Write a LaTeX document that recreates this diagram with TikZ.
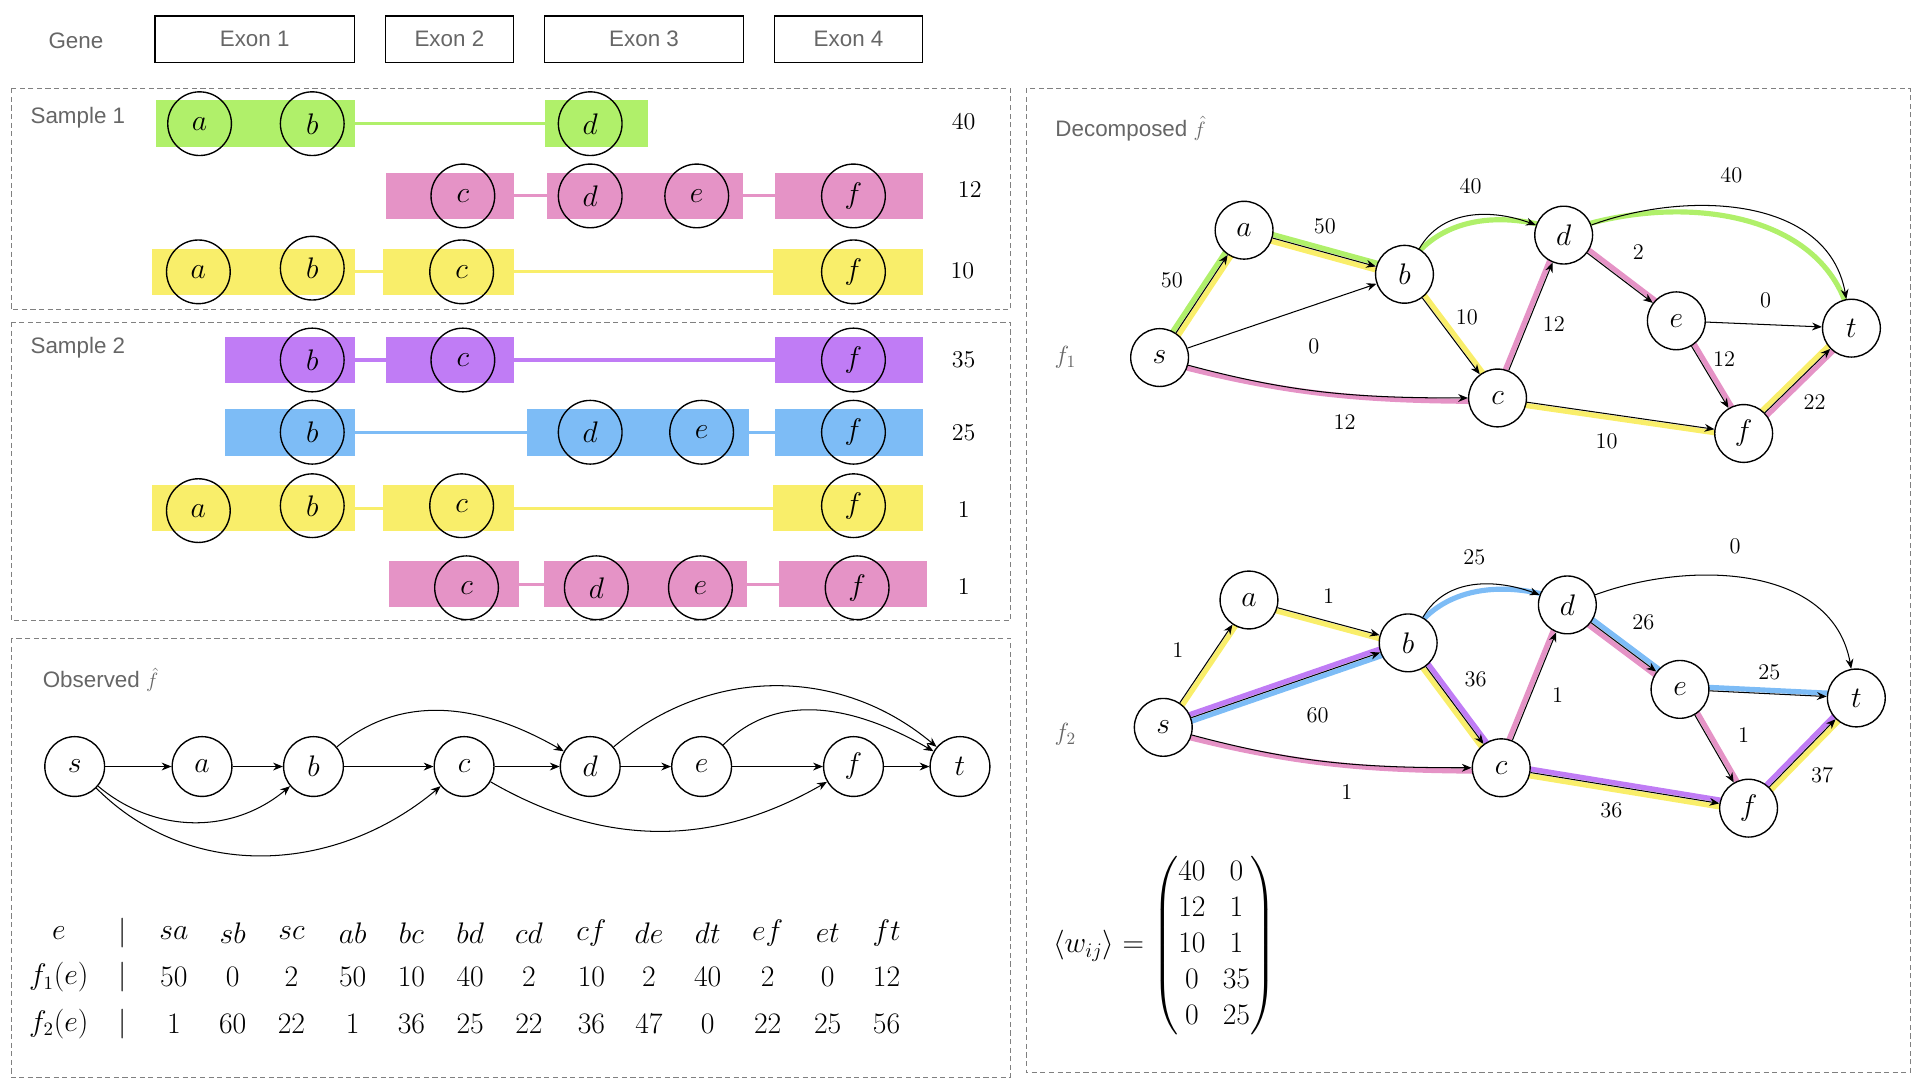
\documentclass[tikz,border=0pt]{standalone}
\usepackage{amsmath}
\usepackage{fontspec}
\newfontfamily\hv{Liberation Sans}
\usetikzlibrary{arrows.meta,calc}
\definecolor{cg}{HTML}{B0F06A}
\definecolor{cp}{HTML}{E593C6}
\definecolor{cy}{HTML}{F9EE6A}
\definecolor{cv}{HTML}{C07CF5}
\definecolor{cb}{HTML}{7DBCF6}
\definecolor{gt}{HTML}{666666}
\tikzset{
 sc/.style={circle,draw,line width=0.8pt,minimum size=1.3cm,inner sep=0,font=\fontsize{17}{17}\selectfont},
 gc/.style={circle,draw,line width=0.8pt,minimum size=1.22cm,inner sep=0,fill=white,font=\fontsize{17}{17}\selectfont},
 ex/.style={draw,line width=0.8pt,minimum height=0.95cm,font=\hv\fontsize{13}{13}\selectfont,text=gt},
 pan/.style={draw=gray,densely dashed,line width=0.5pt},
 lab/.style={font=\hv\fontsize{13}{13}\selectfont,text=gt},
 num/.style={font=\fontsize{14}{14}\selectfont},
 el/.style={font=\fontsize{13}{13}\selectfont},
 ar/.style={-{Stealth[length=2mm,width=1.6mm]},line width=0.6pt},
 tb/.style={font=\fontsize{16}{16}\selectfont}
}
\newcommand{\seg}[4]{\fill[#4] (#1,#3-19) rectangle (#2,#3+19);}
\newcommand{\lnk}[4]{\draw[#4,line width=1.8pt] (#1,#3) -- (#2,#3);}
\newcommand{\cl}[4]{\draw[#3,line width=3pt] ($(#1)!#4!90:(#2)$) -- ($(#2)!#4!-90:(#1)$);}
\begin{document}
\begin{tikzpicture}[x=0.025cm,y=-0.025cm]
\useasboundingbox (0,0) rectangle (1568,882);
% gene header
\node[lab] (gene) at (62,33) {Gene};
\node[ex,minimum width=4.07cm] (e1) at (208,32) {Exon 1};
\node[ex,minimum width=2.62cm] (e2) at (367,32) {Exon 2};
\node[ex,minimum width=4.07cm] (e3) at (526,32) {Exon 3};
\node[ex,minimum width=3.02cm] (e4) at (693,32) {Exon 4};
% panels
\draw[pan] (9,72) rectangle (825,253);
\draw[pan] (9,263) rectangle (825,507);
\draw[pan] (9,521) rectangle (825,880);
\draw[pan] (838,72) rectangle (1560,876);
\node[lab,anchor=west] (s1l) at (20,96) {Sample 1};
\node[lab,anchor=west] (s2l) at (20,284) {Sample 2};
\node[lab,anchor=west] (obl) at (30,555) {Observed $\hat f$};
\node[lab,anchor=west] (del) at (857,105) {Decomposed $\hat f$};
% Sample 1 row 1
\seg{127}{290}{101}{cg}\lnk{290}{445}{101}{cg}\seg{445}{529}{101}{cg}
\node[sc] (r1a) at (163,101) {$a$};\node[sc] (r1b) at (255,101) {$b$};\node[sc] (r1d) at (482,101) {$d$};
\node[num] (n1) at (787,99) {40};
% row 2
\seg{315}{420}{160}{cp}\lnk{420}{447}{160}{cp}\seg{447}{607}{160}{cp}\lnk{607}{633}{160}{cp}\seg{633}{754}{160}{cp}
\node[sc] (r2c) at (378,160) {$c$};\node[sc] (r2d) at (482,160) {$d$};\node[sc] (r2e) at (569,160) {$e$};\node[sc] (r2f) at (697,160) {$f$};
\node[num] (n2) at (792,155) {12};
% row 3
\seg{124}{290}{222}{cy}\lnk{290}{313}{222}{cy}\seg{313}{420}{222}{cy}\lnk{420}{631}{222}{cy}\seg{631}{754}{222}{cy}
\node[sc] (r3a) at (162,222) {$a$};\node[sc] (r3b) at (255,219) {$b$};\node[sc] (r3c) at (377,222) {$c$};\node[sc] (r3f) at (697,222) {$f$};
\node[num] (n3) at (786,221) {10};
% Sample 2 row 1
\seg{184}{290}{294}{cv}\lnk{290}{315}{294}{cv}\seg{315}{420}{294}{cv}\lnk{420}{633}{294}{cv}\seg{633}{754}{294}{cv}
\node[sc] (r4b) at (255,294) {$b$};\node[sc] (r4c) at (378,294) {$c$};\node[sc] (r4f) at (697,294) {$f$};
\node[num] (n4) at (787,294) {35};
% row 2
\seg{184}{290}{353}{cb}\lnk{290}{430}{353}{cb}\seg{430}{612}{353}{cb}\lnk{612}{633}{353}{cb}\seg{633}{754}{353}{cb}
\node[sc] (r5b) at (255,353) {$b$};\node[sc] (r5d) at (482,353) {$d$};\node[sc] (r5e) at (573,353) {$e$};\node[sc] (r5f) at (697,353) {$f$};
\node[num] (n5) at (787,353) {25};
% row 3
\seg{124}{290}{415}{cy}\lnk{290}{313}{415}{cy}\seg{313}{420}{415}{cy}\lnk{420}{631}{415}{cy}\seg{631}{754}{415}{cy}
\node[sc] (r6a) at (162,417) {$a$};\node[sc] (r6b) at (255,413) {$b$};\node[sc] (r6c) at (377,413) {$c$};\node[sc] (r6f) at (697,413) {$f$};
\node[num] (n6) at (787,416) {1};
% row 4
\seg{318}{424}{477}{cp}\lnk{424}{444}{477}{cp}\seg{444}{610}{477}{cp}\lnk{610}{636}{477}{cp}\seg{636}{757}{477}{cp}
\node[sc] (r7c) at (381,480) {$c$};\node[sc] (r7d) at (487,480) {$d$};\node[sc] (r7e) at (572,480) {$e$};\node[sc] (r7f) at (700,480) {$f$};
\node[num] (n7) at (787,479) {1};
% Observed graph
\node[gc] (os) at (61,626) {$s$};
\node[gc] (oa) at (165,626) {$a$};
\node[gc] (ob) at (256,626) {$b$};
\node[gc] (oc) at (379,626) {$c$};
\node[gc] (od) at (482,626) {$d$};
\node[gc] (oe) at (573,626) {$e$};
\node[gc] (of) at (697,626) {$f$};
\node[gc] (ot) at (784,626) {$t$};
\draw[ar] (os)--(oa);\draw[ar] (oa)--(ob);\draw[ar] (ob)--(oc);\draw[ar] (oc)--(od);
\draw[ar] (od)--(oe);\draw[ar] (oe)--(of);\draw[ar] (of)--(ot);
\draw[ar] (os) to[out=-40,in=-140] (ob);
\draw[ar] (os) to[out=-45,in=-140] (oc);
\draw[ar] (ob) to[out=40,in=150] (od);
\draw[ar] (oc) to[out=-30,in=-150] (of);
\draw[ar] (od) to[out=40,in=140] (ot);
\draw[ar] (oe) to[out=45,in=150] (ot);
% table
\foreach \x/\t [count=\i] in {48/e,142/sa,190/sb,238/sc,288/ab,336/bc,384/bd,432/cd,483/cf,530/de,578/dt,627/ef,676/et,724/ft}
  \node[tb] (th\i) at (\x,762) {$\t$};
\foreach \x/\t [count=\i] in {48/f_1(e),142/50,190/0,238/2,288/50,336/10,384/40,432/2,483/10,530/2,578/40,627/2,676/0,724/12}
  \node[tb] (ta\i) at (\x,798) {$\t$};
\foreach \x/\t [count=\i] in {48/f_2(e),142/1,190/60,238/22,288/1,336/36,384/25,432/22,483/36,530/47,578/0,627/22,676/25,724/56}
  \node[tb] (tc\i) at (\x,836) {$\t$};
\foreach \y [count=\i] in {762,798,836} \node[tb] (bar\i) at (100,\y) {$|$};
% f1 graph
\coordinate (ps) at (947,292);\coordinate (pa) at (1016,188);\coordinate (pb) at (1147,224);
\coordinate (pc) at (1223,325);\coordinate (pd) at (1277,192);\coordinate (pe) at (1369,262);
\coordinate (pf) at (1424,354);\coordinate (pt) at (1512,268);
\cl{ps}{pa}{cg}{2pt}\cl{ps}{pa}{cy}{-2pt}
\cl{pa}{pb}{cg}{2pt}\cl{pa}{pb}{cy}{-2pt}
\cl{pf}{pt}{cy}{2pt}\cl{pf}{pt}{cp}{-2pt}
\cl{pb}{pc}{cy}{2pt}\cl{pc}{pd}{cp}{2pt}\cl{pd}{pe}{cp}{2pt}\cl{pe}{pf}{cp}{2pt}\cl{pc}{pf}{cy}{-2pt}
\draw[cg,line width=3pt,transform canvas={yshift=2pt}] (pb) to[out=60,in=160] (pd);
\draw[cg,line width=3pt,transform canvas={yshift=2pt}] (pd) to[out=20,in=100] (pt);
\draw[cp,line width=3pt,transform canvas={yshift=-2pt}] (ps) to[out=-15,in=180] (pc);
\node[gc,minimum size=1.18cm] (s1) at (ps) {$s$};\node[gc,minimum size=1.18cm] (a1) at (pa) {$a$};
\node[gc,minimum size=1.18cm] (b1) at (pb) {$b$};\node[gc,minimum size=1.18cm] (c1) at (pc) {$c$};
\node[gc,minimum size=1.18cm] (d1) at (pd) {$d$};\node[gc,minimum size=1.18cm] (e1n) at (pe) {$e$};
\node[gc,minimum size=1.18cm] (f1) at (pf) {$f$};\node[gc,minimum size=1.18cm] (t1) at (pt) {$t$};
\draw[ar] (s1)--(a1);\draw[ar] (a1)--(b1);\draw[ar] (s1)--(b1);\draw[ar] (b1)--(c1);
\draw[ar] (c1)--(d1);\draw[ar] (d1)--(e1n);\draw[ar] (e1n)--(t1);\draw[ar] (e1n)--(f1);
\draw[ar] (c1)--(f1);\draw[ar] (f1)--(t1);
\draw[ar] (b1) to[out=60,in=160] (d1);
\draw[ar] (d1) to[out=20,in=100] (t1);
\draw[ar] (s1) to[out=-15,in=180] (c1);
\foreach \x/\y/\t [count=\i] in {957/229/50,1082/185/50,1201/152/40,1414/143/40,1073/283/0,1098/345/12,1198/259/10,1269/265/12,1338/206/2,1442/245/0,1408/293/12,1312/360/10,1482/328/22}
  \node[el] (l1\i) at (\x,\y) {\t};
\node[num,text=gt] (f1l) at (870,292) {$f_1$};
% f2 graph
\coordinate (qs) at (950,594);\coordinate (qa) at (1020,490);\coordinate (qb) at (1150,525);
\coordinate (qc) at (1226,627);\coordinate (qd) at (1280,494);\coordinate (qe) at (1372,563);
\coordinate (qf) at (1428,660);\coordinate (qt) at (1516,570);
\cl{qs}{qa}{cy}{-2pt}\cl{qa}{qb}{cy}{-2pt}
\cl{qs}{qb}{cv}{2pt}\cl{qs}{qb}{cb}{-2pt}
\cl{qb}{qc}{cv}{2pt}\cl{qb}{qc}{cy}{-2pt}
\cl{qc}{qd}{cp}{2pt}
\cl{qd}{qe}{cb}{2pt}\cl{qd}{qe}{cp}{-2pt}
\cl{qe}{qt}{cb}{2pt}\cl{qe}{qf}{cp}{2pt}
\cl{qc}{qf}{cv}{2pt}\cl{qc}{qf}{cy}{-2pt}
\cl{qf}{qt}{cv}{2pt}\cl{qf}{qt}{cy}{-2pt}
\draw[cb,line width=3pt,transform canvas={yshift=2pt}] (qb) to[out=60,in=160] (qd);
\draw[cp,line width=3pt,transform canvas={yshift=-2pt}] (qs) to[out=-15,in=180] (qc);
\node[gc,minimum size=1.18cm] (s2) at (qs) {$s$};\node[gc,minimum size=1.18cm] (a2) at (qa) {$a$};
\node[gc,minimum size=1.18cm] (b2) at (qb) {$b$};\node[gc,minimum size=1.18cm] (c2) at (qc) {$c$};
\node[gc,minimum size=1.18cm] (d2) at (qd) {$d$};\node[gc,minimum size=1.18cm] (e2n) at (qe) {$e$};
\node[gc,minimum size=1.18cm] (f2) at (qf) {$f$};\node[gc,minimum size=1.18cm] (t2) at (qt) {$t$};
\draw[ar] (s2)--(a2);\draw[ar] (a2)--(b2);\draw[ar] (s2)--(b2);\draw[ar] (b2)--(c2);
\draw[ar] (c2)--(d2);\draw[ar] (d2)--(e2n);\draw[ar] (e2n)--(t2);\draw[ar] (e2n)--(f2);
\draw[ar] (c2)--(f2);\draw[ar] (f2)--(t2);
\draw[ar] (b2) to[out=60,in=160] (d2);
\draw[ar] (d2) to[out=20,in=100] (t2);
\draw[ar] (s2) to[out=-15,in=180] (c2);
\foreach \x/\y/\t [count=\i] in {962/531/1,1085/487/1,1204/455/25,1417/446/0,1076/584/60,1205/555/36,1100/647/1,1272/568/1,1342/508/26,1445/549/25,1424/600/1,1316/662/36,1488/633/37}
  \node[el] (l2\i) at (\x,\y) {\t};
\node[num,text=gt] (f2l) at (870,600) {$f_2$};
% matrix
\node[anchor=west,font=\fontsize{18}{21}\selectfont] (mat) at (855,772)
 {$\langle w_{ij}\rangle = \begin{pmatrix} 40 & 0\\ 12 & 1\\ 10 & 1\\ 0 & 35\\ 0 & 25\end{pmatrix}$};
\end{tikzpicture}
\end{document}
